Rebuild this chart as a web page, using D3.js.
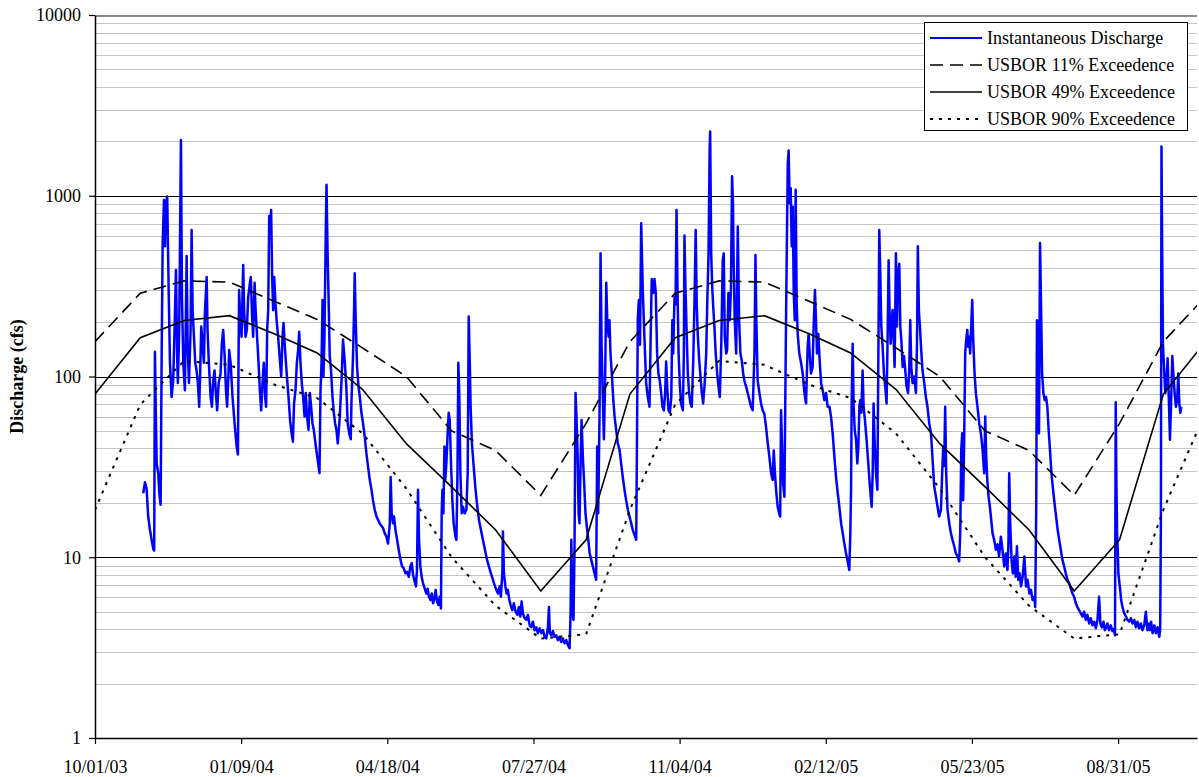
<!DOCTYPE html>
<html>
<head>
<meta charset="utf-8">
<script src="https://cdn.jsdelivr.net/npm/d3@7"></script>
<style>
  body { margin: 0; background: #fff; }
  text { font-family: "Liberation Serif", "Times New Roman", serif; fill: #000; }
</style>
</head>
<body>
<svg id="chart" width="1199" height="777"></svg>
<script>
// Record start and the extent of the time axis
const recordStart = "2003-10-01";
const axisEnd = "2005-10-24";

// Time-axis tick dates (every 100 days)
const xTickDates = ["2003-10-01", "2004-01-09", "2004-04-18", "2004-07-27",
                    "2004-11-04", "2005-02-12", "2005-05-23", "2005-08-31"];

// Discharge-axis decades (cfs)
const yTickValues = [1, 10, 100, 1000, 10000];

// USBOR monthly exceedance flows (cfs), plotted on the first of each month
const monthStarts = ["2003-10-01", "2003-11-01", "2003-12-01", "2004-01-01", "2004-02-01", "2004-03-01",
                     "2004-04-01", "2004-05-01", "2004-06-01", "2004-07-01", "2004-08-01", "2004-09-01",
                     "2004-10-01", "2004-11-01", "2004-12-01", "2005-01-01", "2005-02-01", "2005-03-01",
                     "2005-04-01", "2005-05-01", "2005-06-01", "2005-07-01", "2005-08-01", "2005-09-01",
                     "2005-10-01", "2005-11-01"];
const usbor11 = [156, 289, 338, 333, 260, 207, 144, 100, 50, 39, 22, 55,
                 156, 289, 338, 333, 260, 207, 144, 100, 50, 39, 22, 55,
                 156, 289];
const usbor49 = [80, 164, 204, 217, 172, 135, 85, 42.5, 24.5, 14.2, 6.5, 12.5,
                 80, 164, 204, 217, 172, 135, 85, 42.5, 24.5, 14.2, 6.5, 12.5,
                 80, 164];
const usbor90 = [18.3, 70, 122, 116, 90, 76, 48.5, 24, 10, 5.4, 3.55, 3.75,
                 18.3, 70, 122, 116, 90, 76, 48.5, 24, 10, 5.4, 3.55, 3.75,
                 18.3, 70];

const legendLabels = ["Instantaneous Discharge", "USBOR 11% Exceedence",
                      "USBOR 49% Exceedence", "USBOR 90% Exceedence"];

// Instantaneous discharge: [days since 10/01/03, cfs]
const discharge = [
  [33.0,22.6],[34.2,26],[35.3,24],[36.4,16.8],[37.6,14.2],[38.8,12.4],[39.9,11.1],[40.5,10.9],
  [41.0,137],[41.7,57],[42.2,33],[43.3,29],[44.0,22.6],[44.9,19.5],[45.6,130],[46.3,548],
  [47.2,948],[47.9,525],[48.5,915],[49.4,990],[50.4,301],[51.3,119],[52.4,77],[53.5,95],
  [54.2,152],[55.4,388],[56.3,119],[56.7,92],[57.6,181],[58.8,2033],[59.5,275],[60.4,119],
  [61.5,84],[62.7,464],[63.4,146],[64.3,92],[65.4,181],[66.1,647],[66.8,233],[67.7,166],
  [68.6,119],[69.5,108],[70.4,92],[71.3,68],[72.0,108],[72.7,189],[73.6,152],[74.5,119],
  [75.2,225],[76.4,355],[77.0,181],[77.9,119],[79.1,77],[80.0,68],[80.9,95],[81.8,108],
  [82.7,81],[83.6,65],[84.6,92],[85.9,104],[86.8,152],[87.7,181],[88.7,130],[89.6,84],
  [90.4,68],[91.4,108],[91.8,140],[92.8,119],[94.1,77],[95.5,55],[96.9,41],[97.8,37],
  [98.2,119],[98.6,301],[99.3,215],[100.3,166],[101.0,301],[101.4,414],[102.1,225],[103.0,166],
  [103.9,181],[104.8,275],[106.0,330],[106.6,355],[107.5,215],[108.2,166],[109.2,330],[109.9,233],
  [110.9,166],[111.9,119],[112.8,84],[113.7,65],[114.6,92],[115.5,119],[116.4,77],[117.1,68],
  [117.8,181],[118.5,233],[119.2,773],[119.8,647],[120.5,834],[121.2,355],[121.9,233],[122.6,355],
  [123.5,253],[124.4,198],[125.3,166],[126.5,123],[127.4,100],[128.3,166],[129.0,198],[129.9,146],
  [131.0,108],[132.4,77],[133.5,57],[134.5,48.6],[135.4,43.6],[136.2,71],[137.2,84],[138.1,119],
  [139.0,140],[139.7,177],[140.6,119],[141.5,92],[142.4,77],[143.4,60],[144.2,81],[145.1,60],
  [146.1,50.6],[147.0,81],[147.9,68],[148.8,55],[149.7,50.6],[151.1,41],[152.4,34.5],[153.6,29.2],
  [154.3,84],[155.0,119],[155.7,265],[156.3,100],[157.0,166],[157.9,647],[158.4,1150],[159.1,500],
  [159.8,275],[160.6,130],[161.5,108],[162.5,77],[163.4,63],[164.3,55],[165.2,50.6],[166.1,42.6],
  [167.5,60],[168.8,100],[169.7,160],[170.9,120],[171.9,90],[172.9,55],[174.0,48],[175.0,45],
  [175.5,74],[176.6,134],[177.3,243],[177.7,372],[178.4,205],[179.3,113],[180.3,88],[181.2,77],
  [182.3,63],[183.4,55],[184.6,46],[185.7,37.6],[186.8,31.8],[188.0,26.8],[189.2,23.6],[190.2,20.7],
  [191.4,18.3],[192.6,16.8],[193.7,16.1],[194.8,15.4],[197.1,14.5],[198.2,13.6],[199.4,13.0],[200.5,11.9],
  [201.7,15.4],[202.3,27.8],[203.0,17.5],[203.9,15.4],[204.6,16.8],[205.6,14.1],[206.7,12.5],[207.8,11.0],
  [209.0,9.7],[210.1,8.9],[211.2,8.7],[212.4,8.15],[213.5,8.3],[214.7,7.8],[215.8,8.9],[216.7,9.3],
  [217.6,8.0],[218.8,7.3],[219.6,6.9],[220.3,8.5],[221.0,23.6],[221.7,12.5],[222.6,8.9],[223.5,7.8],
  [224.4,7.2],[225.6,6.7],[226.7,6.3],[227.6,6.7],[228.5,6.05],[229.5,5.8],[230.4,6.3],[231.3,5.56],
  [232.2,5.9],[233.1,6.6],[234.0,5.7],[235.0,5.44],[235.8,6.05],[236.7,5.2],[237.2,17.5],[237.7,23.6],
  [238.4,17.5],[239.1,41],[239.7,26.8],[240.4,33],[241.3,48.6],[242.0,63],[242.7,57.5],[243.6,33],
  [244.5,20.7],[245.4,15.4],[246.6,13],[247.3,12.5],[248.0,29.2],[248.6,119],[249.3,77],[250.0,29.2],
  [250.9,17.5],[251.8,19],[252.9,17.5],[254.1,18.3],[255.0,29.2],[255.7,215],[256.4,123],[257.0,68],
  [257.9,42.6],[259.1,31.8],[260.2,24.6],[261.3,19.9],[262.7,16.1],[264.1,14.1],[265.4,12.5],[266.8,11.0],
  [268.2,9.7],[269.5,8.9],[270.9,8.15],[272.3,7.5],[273.4,7.0],[274.6,6.6],[275.7,6.3],[276.9,6.9],
  [277.7,6.05],[278.7,8.15],[279.1,13.9],[279.8,8.15],[280.8,6.9],[281.6,6.3],[282.5,6.6],[283.5,5.8],
  [284.4,5.44],[285.5,5.1],[286.6,5.56],[287.8,5.0],[289.0,4.8],[290.0,5.3],[291.0,4.7],[291.9,5.7],
  [292.8,4.9],[293.9,4.6],[295.1,4.5],[296.2,4.8],[297.4,4.2],[298.5,4.1],[299.6,4.4],[300.8,3.95],
  [301.9,4.1],[303.0,3.8],[304.2,4.05],[305.4,3.8],[306.5,3.95],[307.6,3.63],[308.8,3.56],[309.9,4.1],
  [310.6,5.3],[311.2,3.8],[312.2,3.7],[313.3,3.9],[314.5,3.63],[315.6,3.7],[316.7,3.48],[317.9,3.63],
  [319.0,3.4],[320.1,3.56],[321.3,3.34],[322.5,3.48],[323.5,3.27],[324.7,3.14],[325.4,4.9],[325.9,12.5],
  [326.3,7.5],[326.8,4.9],[327.4,4.5],[328.1,11.5],[328.8,81],[329.5,57.5],[330.2,37.6],[330.9,17.5],
  [331.5,15.4],[332.2,31.8],[332.9,57.5],[333.8,36],[334.8,24.6],[335.6,17.5],[336.5,14.8],[337.5,12.5],
  [338.4,10.6],[339.5,9.7],[340.6,8.9],[341.8,8.15],[342.9,7.5],[343.6,41],[344.3,17.5],[345.2,60],
  [345.9,480],[346.6,150],[347.5,74],[348.2,45],[349.0,90],[349.8,330],[350.5,205],[351.4,166],
  [352.0,205],[352.7,134],[353.6,104],[354.6,75],[355.5,60],[356.6,50.6],[357.7,42.6],[358.9,39.3],
  [360.0,33],[361.1,27.8],[362.3,23.6],[363.4,20.7],[364.6,18.3],[365.7,16.8],[366.9,15.4],[368.0,14.1],
  [369.1,13.3],[370.3,12.5],[370.7,31.8],[371.4,210],[372.1,265],[372.9,150],[373.7,705],[374.8,301],
  [375.9,166],[377.1,92],[378.2,77],[379.4,68],[380.0,134],[380.9,346],[381.9,290],[382.8,346],
  [383.7,290],[384.6,134],[385.5,104],[386.4,95],[387.4,81],[388.3,68],[389.2,65],[390.1,81],
  [390.8,121],[391.5,88],[392.4,65],[393.3,63],[394.3,77],[395.0,205],[395.6,134],[396.5,275],
  [397.2,250],[397.9,834],[398.6,290],[399.3,134],[400.2,88],[401.0,71],[402.2,65],[402.9,134],
  [403.3,603],[404.0,314],[404.7,189],[405.6,104],[406.5,81],[407.4,71],[408.3,68],[409.3,120],
  [410.2,265],[411.0,647],[411.7,253],[412.4,172],[413.4,123],[414.3,100],[415.2,81],[416.1,71],
  [417.0,88],[418.2,134],[418.9,253],[419.8,480],[420.5,1700],[420.9,2270],[421.6,480],[422.3,314],
  [423.0,243],[423.8,189],[424.7,134],[425.7,104],[426.6,88],[427.5,77],[428.5,150],[429.5,440],
  [430.2,480],[430.9,166],[431.9,134],[432.5,140],[433.4,290],[434.3,205],[435.1,300],[435.9,1280],
  [436.5,900],[437.0,420],[437.7,205],[438.7,134],[439.8,675],[440.7,205],[441.6,134],[442.5,123],
  [443.5,104],[444.3,95],[445.5,88],[446.6,81],[447.8,74],[448.9,68],[450.0,65],[451.2,134],
  [451.9,470],[452.5,205],[453.4,95],[454.6,81],[455.7,71],[456.8,65],[458.0,62],[459.2,52],
  [460.3,42.6],[461.4,36],[462.6,29.2],[463.7,26.8],[464.4,39],[465.4,27.8],[466.2,22.6],[467.1,19],
  [468.1,17.5],[468.8,16.8],[469.4,65],[470.8,25.6],[471.7,21.6],[472.9,243],[474.0,1500],[474.6,1780],
  [475.3,910],[476.0,1100],[476.7,525],[477.4,870],[478.1,290],[478.8,205],[479.4,1080],[480.1,253],
  [480.8,172],[481.9,134],[483.1,119],[484.2,104],[485.4,81],[486.5,71],[487.6,146],[488.3,172],
  [489.0,134],[489.9,104],[491.0,113],[491.7,189],[492.6,301],[493.3,205],[494.0,134],[494.9,172],
  [495.8,123],[496.8,92],[497.9,84],[499.0,74],[500.2,81],[501.3,68],[502.5,68],[503.6,60],
  [504.7,48.6],[505.9,36],[507.0,27.8],[508.2,22.6],[509.3,19],[510.5,15.4],[511.6,13.6],[512.7,11.9],
  [513.9,10.5],[515.0,9.5],[516.1,8.5],[516.8,13.6],[517.3,23.6],[517.7,71],[518.4,152],[519.1,68],
  [519.8,50.6],[520.7,44.7],[521.6,33],[522.3,41],[523.0,68],[523.6,74],[524.3,63],[525.2,108],
  [525.9,68],[526.8,57.5],[527.9,44.7],[529.1,33],[530.2,24.6],[531.4,19],[532.1,29.2],[532.7,71],
  [533.4,44.7],[534.4,29.2],[535.3,23.6],[535.9,104],[536.6,647],[537.3,372],[538.0,189],[538.9,146],
  [539.8,104],[540.7,88],[541.6,71],[542.3,160],[543.0,440],[543.7,225],[544.4,152],[545.0,180],
  [545.7,233],[546.4,170],[547.1,113],[548.0,480],[548.7,189],[549.4,372],[550.3,420],[551.0,189],
  [551.7,160],[552.6,113],[553.5,130],[554.4,108],[555.3,88],[556.3,81],[557.1,108],[557.8,205],
  [558.5,113],[559.4,92],[560.5,100],[561.7,81],[562.4,150],[563.0,525],[563.7,233],[564.4,189],
  [565.3,140],[566.2,108],[567.4,92],[568.5,77],[569.6,68],[570.8,55],[572.0,48.6],[573.1,34.5],
  [574.2,24.6],[575.4,21.6],[576.5,19],[577.6,16.8],[578.8,18.3],[579.7,30],[580.4,41],[581.0,32],
  [581.7,68],[582.4,29.2],[583.3,18.3],[584.5,15.4],[585.6,13.6],[586.7,12.5],[587.9,11.5],[589.0,10.5],
  [590.2,10.1],[591.3,9.5],[592.0,13.6],[592.7,39.3],[593.4,48.6],[594.0,20.7],[594.7,44.7],[595.4,134],
  [596.1,160],[596.8,181],[597.5,146],[598.2,166],[598.8,134],[599.5,189],[600.2,265],[600.9,160],
  [601.8,104],[602.7,81],[603.8,68],[605.0,55],[606.1,48.6],[607.3,39.3],[608.4,29.2],[609.1,60],
  [609.8,36],[610.5,26.8],[611.4,21.6],[612.3,19],[613.2,16.1],[614.1,13.6],[615.2,12.5],[616.4,11],
  [617.5,11.8],[618.6,10.1],[619.8,13],[620.9,11],[622.1,8.9],[623.2,10.5],[624.3,8.5],[625.0,12],
  [625.5,29.2],[626.2,15.4],[627.1,9.7],[628.0,8.15],[629.0,10.1],[629.9,7.8],[630.8,11.5],[631.7,7.5],
  [632.6,8.15],[633.6,6.9],[634.7,7.8],[635.9,10.1],[637.0,6.9],[638.1,7.5],[639.3,6.3],[640.4,6.6],
  [641.5,5.8],[642.7,6.05],[643.3,5.3],[644.0,19],[644.5,205],[645.2,146],[645.9,48.6],[646.6,548],
  [647.3,243],[648.0,104],[648.9,81],[649.8,74],[650.7,77],[651.6,68],[652.5,50.6],[653.5,38.2],
  [654.4,29.2],[655.3,24.6],[656.5,19.9],[657.6,16.8],[658.7,14.1],[659.7,12.5],[660.8,11],[661.9,9.7],
  [663.1,8.9],[664.2,8.15],[665.4,7.5],[666.5,7.2],[667.7,6.7],[668.8,6.3],[669.9,6.05],[671.1,5.56],
  [672.2,5.3],[673.3,5.1],[674.5,4.9],[675.6,4.7],[676.8,5.0],[677.9,4.5],[679.0,4.8],[680.2,4.3],
  [681.3,4.6],[682.5,4.2],[683.6,4.4],[684.8,4.05],[685.9,4.5],[687.0,6.05],[687.9,4.3],[688.9,4.1],
  [690.0,4.4],[690.9,3.95],[691.6,4.05],[692.7,4.3],[693.8,3.95],[695.0,4.2],[696.1,3.9],[697.1,4.0],
  [697.9,3.7],[698.4,72],[698.8,29.2],[699.3,13.6],[699.8,11],[700.2,8.15],[701.2,6.9],[702.1,5.8],
  [703.0,5.3],[704.2,4.9],[705.4,4.7],[706.5,4.5],[707.6,4.4],[708.8,4.6],[709.9,4.3],[711.1,4.5],
  [712.2,4.1],[713.3,4.4],[714.4,4.05],[715.6,4.3],[716.7,3.95],[717.9,4.2],[719.0,5.0],[720.1,3.95],
  [721.3,4.3],[721.8,3.95],[722.6,4.4],[723.6,3.8],[724.8,4.2],[725.9,3.8],[727.0,4.1],[728.2,3.63],
  [728.8,4.0],[729.3,16.1],[729.7,1870],[730.2,464],[730.7,152],[731.6,104],[732.3,81],[733.0,90],
  [733.9,126],[734.6,81],[735.5,44.7],[736.2,68],[737.1,130],[737.8,104],[738.7,81],[739.6,68],
  [740.5,75],[741.2,104],[741.9,71],[742.6,63],[743.3,68]
];

const parseDay = d3.utcParse("%Y-%m-%d");
const t0 = parseDay(recordStart);
const dayToDate = d => new Date(t0.getTime() + d * 864e5);

const svg = d3.select("#chart");
const plot = { left: 95, right: 1197, top: 15, bottom: 738 };
const serif = "'Liberation Serif', 'Times New Roman', serif";

const x = d3.scaleUtc()
  .domain([t0, parseDay(axisEnd)])
  .range([plot.left, plot.right]);
const y = d3.scaleLog()
  .domain([1, 10000])
  .range([plot.bottom, plot.top]);

svg.append("defs").append("clipPath").attr("id", "plotClip")
  .append("rect")
  .attr("x", plot.left).attr("y", plot.top - 2)
  .attr("width", plot.right - plot.left).attr("height", plot.bottom - plot.top + 4);

// Gridlines: minor steps within each decade, then the decades
const crisp = v => Math.round(v) + 0.5;
const minorValues = y.ticks().filter(v => !yTickValues.includes(v));
const grid = svg.append("g").attr("shape-rendering", "crispEdges");
grid.selectAll("line.minor").data(minorValues).join("line")
  .attr("class", "minor")
  .attr("x1", plot.left).attr("x2", plot.right)
  .attr("y1", d => crisp(y(d))).attr("y2", d => crisp(y(d)))
  .attr("stroke", "#c4c4c4").attr("stroke-width", 1);
grid.selectAll("line.major").data(yTickValues.filter(v => v > 1)).join("line")
  .attr("class", "major")
  .attr("x1", plot.left).attr("x2", plot.right)
  .attr("y1", d => crisp(y(d))).attr("y2", d => crisp(y(d)))
  .attr("stroke", d => d === 10000 ? "#8a8a8a" : "#000")
  .attr("stroke-width", d => d === 10000 ? 2 : 1);

// Series
const series = svg.append("g").attr("clip-path", "url(#plotClip)");

const flowLine = d3.line()
  .x(d => x(dayToDate(d[0])))
  .y(d => y(d[1]));
series.append("path")
  .datum(discharge)
  .attr("d", flowLine)
  .attr("fill", "none")
  .attr("stroke", "#0000ff")
  .attr("stroke-width", 2.5)
  .attr("stroke-linejoin", "round");

const monthDates = monthStarts.map(parseDay);
const exceedLine = d3.line()
  .x((d, i) => x(monthDates[i]))
  .y(d => y(d));

const curveStyles = [
  { values: usbor11, dash: "13,7", width: 1.6 },
  { values: usbor49, dash: null, width: 1.6 },
  { values: usbor90, dash: "3,6", width: 2 }
];
curveStyles.forEach(c => {
  series.append("path")
    .datum(c.values)
    .attr("d", exceedLine)
    .attr("fill", "none")
    .attr("stroke", "#000")
    .attr("stroke-width", c.width)
    .attr("stroke-dasharray", c.dash);
});

// Axes
const fmt = d3.utcFormat("%m/%d/%y");
const xTicks = xTickDates.map(parseDay);
const xAxis = d3.axisBottom(x)
  .tickValues(xTicks)
  .tickFormat(fmt)
  .tickSize(6)
  .tickSizeOuter(0)
  .tickPadding(16);
const gx = svg.append("g")
  .attr("transform", `translate(0,${plot.bottom})`)
  .call(xAxis);
gx.attr("font-family", serif).attr("font-size", 18);
gx.select(".domain").attr("stroke", "#000").attr("stroke-width", 1.5);
gx.selectAll(".tick line").attr("stroke", "#000").attr("stroke-width", 1.2);
gx.selectAll(".tick text").style("font-family", serif).style("font-size", "18px");

const yAxis = d3.axisLeft(y)
  .tickValues(yTickValues)
  .tickFormat(d3.format("d"))
  .tickSize(6)
  .tickSizeOuter(0)
  .tickPadding(8);
const gy = svg.append("g")
  .attr("transform", `translate(${plot.left},0)`)
  .call(yAxis);
gy.attr("font-family", serif).attr("font-size", 18);
gy.select(".domain").attr("stroke", "#000").attr("stroke-width", 1.5);
gy.selectAll(".tick line").attr("stroke", "#000").attr("stroke-width", 1.2);
gy.selectAll(".tick text").style("font-family", serif).style("font-size", "18px");

// Axis title
svg.append("text")
  .attr("transform", `translate(23,${(plot.top + plot.bottom) / 2}) rotate(-90)`)
  .attr("text-anchor", "middle")
  .style("font-family", serif)
  .style("font-weight", "bold")
  .style("font-size", "18px")
  .text("Discharge (cfs)");

// Legend
const legend = svg.append("g");
legend.append("rect")
  .attr("x", 924.5).attr("y", 22.5)
  .attr("width", 263).attr("height", 108)
  .attr("fill", "#fff").attr("stroke", "#000").attr("stroke-width", 1);
const legendStyles = [
  { stroke: "#0000ff", dash: null, width: 2 },
  { stroke: "#000", dash: "13,7", width: 1.6 },
  { stroke: "#000", dash: null, width: 1.6 },
  { stroke: "#000", dash: "3,6", width: 2 }
];
legendLabels.forEach((label, i) => {
  const cy = 38 + i * 27;
  legend.append("line")
    .attr("x1", 930).attr("x2", 982)
    .attr("y1", cy).attr("y2", cy)
    .attr("stroke", legendStyles[i].stroke)
    .attr("stroke-width", legendStyles[i].width)
    .attr("stroke-dasharray", legendStyles[i].dash);
  legend.append("text")
    .attr("x", 987).attr("y", cy)
    .attr("dy", "0.35em")
    .style("font-family", serif)
    .style("font-size", "18px")
    .text(label);
});
</script>
</body>
</html>
